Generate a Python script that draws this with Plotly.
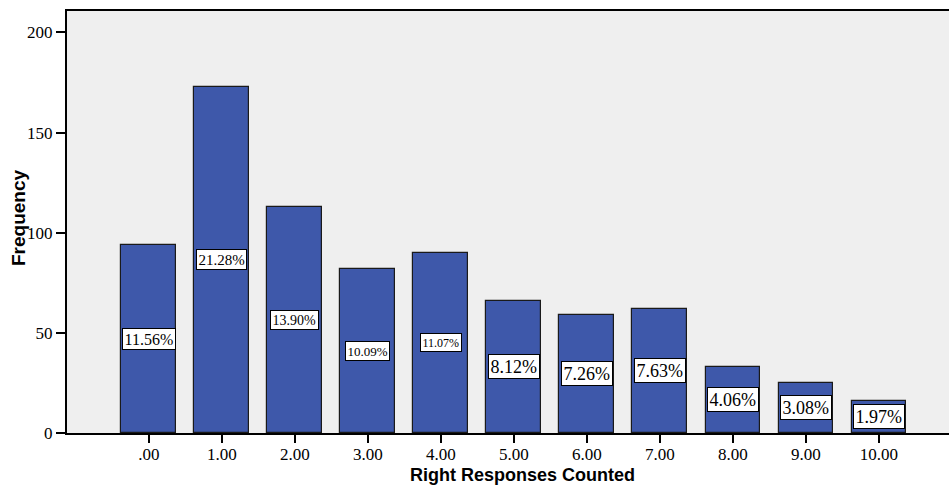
import plotly.graph_objects as go

categories = [".00", "1.00", "2.00", "3.00", "4.00", "5.00", "6.00", "7.00", "8.00", "9.00", "10.00"]
frequencies = [94, 173, 113, 82, 90, 66, 59, 62, 33, 25, 16]
y_ticks = [0, 50, 100, 150, 200]

label_font_sizes = [16, 15, 14, 13, 12, 18, 18, 18, 18, 18, 18]

total = sum(frequencies)
xpos = list(range(len(categories)))
pct_labels = [f"{v / total * 100:.2f}%" for v in frequencies]

W, H = 949, 488
L, T, B = 67, 11, 488 - 433
plot_w = W - L
plot_h = H - T - B

fig = go.Figure()
fig.add_trace(go.Bar(
    x=xpos, y=frequencies, width=0.75,
    marker=dict(color="rgb(62,88,170)", line=dict(color="#1a1a1a", width=1.2)),
    hoverinfo="skip",
))

for x, v, t, fs in zip(xpos, frequencies, pct_labels, label_font_sizes):
    fig.add_annotation(
        x=x, y=v / 2, text=t, showarrow=False,
        font=dict(family="Liberation Serif", size=fs, color="black"),
        bgcolor="white", bordercolor="black", borderwidth=1, borderpad=1.5,
        xanchor="center", yanchor="middle",
    )

fig.add_annotation(
    xref="paper", yref="paper", x=(522 - 67) / plot_w, y=-(475 - 433) / plot_h,
    text="<b>Right Responses Counted</b>", showarrow=False,
    font=dict(family="Liberation Sans", size=18, color="black"),
    xanchor="center", yanchor="middle",
)
fig.add_annotation(
    xref="paper", yref="paper", x=-(67 - 18) / plot_w, y=(433 - 218) / plot_h,
    text="<b>Frequency</b>", showarrow=False, textangle=-90,
    font=dict(family="Liberation Sans", size=19, color="black"),
    xanchor="center", yanchor="middle",
)

fig.update_layout(
    width=W, height=H,
    margin=dict(l=L, r=0, t=T, b=B, autoexpand=False),
    paper_bgcolor="white", plot_bgcolor="rgb(239,239,239)",
    showlegend=False, bargap=0,
    xaxis=dict(
        range=[-1.12, 10.96], tickvals=xpos, ticktext=categories,
        showgrid=False, zeroline=False,
        showline=True, linecolor="black", linewidth=2, mirror=True,
        ticks="outside", ticklen=8, tickwidth=1.5, tickcolor="black",
        ticklabelstandoff=-3,
        tickfont=dict(family="Liberation Serif", size=17, color="black"),
        fixedrange=True, automargin=False,
    ),
    yaxis=dict(
        range=[0, 210.7], tickvals=y_ticks,
        showgrid=False, zeroline=False,
        showline=True, linecolor="black", linewidth=2,
        ticks="outside", ticklen=9, tickwidth=1.5, tickcolor="black",
        tickfont=dict(family="Liberation Serif", size=17, color="black"),
        fixedrange=True, automargin=False,
    ),
)

fig.write_html(
    "out.html",
    config={"displayModeBar": False},
    post_script="document.body.style.margin='0';document.body.style.overflow='hidden';",
)
